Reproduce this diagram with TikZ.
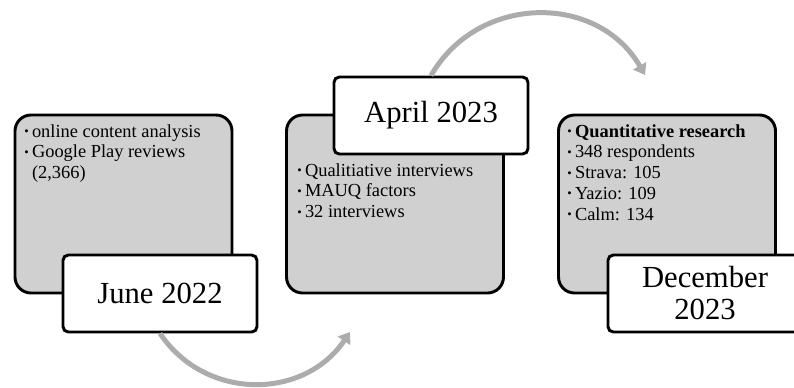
\documentclass[tikz,border=0pt]{standalone}
\usepackage{fontspec}
\setmainfont{Liberation Serif}
\usetikzlibrary{arrows.meta, positioning}
\definecolor{boxgray}{RGB}{208,208,208}
\definecolor{arrowgray}{RGB}{172,172,172}
\newcommand{\blt}{\raisebox{1.1pt}{\fontsize{9.5}{9.5}\selectfont\textbullet}}

\begin{document}
\begin{tikzpicture}[x=0.75pt,y=0.75pt]
\clip (0,0) rectangle (794,387);

\begin{scope}[every node/.style={draw=black, line width=2.2pt, fill=boxgray,
              rounded corners=12pt, minimum width=162.75pt, minimum height=133.5pt}]
  \node (g1) at (123.5,183) {};
  \node (g2) at (395,183) {};
  \node (g3) at (667,183) {};
\end{scope}

\begin{scope}[every node/.style={anchor=base west, inner sep=0pt,
              font=\fontsize{13.8}{15.6}\selectfont}]
  \node (l1) at (24,250) {\begin{tabular}[t]{@{}l@{\hspace{2.5pt}}l@{}}
      \blt & online content analysis\\
      \blt & Google Play reviews\\
           & (2,366)\end{tabular}};
  \node (l2) at (297,211) {\begin{tabular}[t]{@{}l@{\hspace{2.5pt}}l@{}}
      \blt & Qualitiative interviews\\
      \blt & MAUQ factors\\
      \blt & 32 interviews\end{tabular}};
  \node (l3) at (567,250) {\begin{tabular}[t]{@{}l@{\hspace{2.5pt}}l@{}}
      \blt & \textbf{Quantitative research}\\
      \blt & 348 respondents\\
      \blt & Strava: 105\\
      \blt & Yazio: 109\\
      \blt & Calm: 134\end{tabular}};
\end{scope}

\begin{scope}[every node/.style={draw=black, line width=2.2pt, fill=white,
              rounded corners=4pt, minimum width=145.5pt, minimum height=57.75pt,
              font=\fontsize{23}{24}\selectfont, align=center}]
  \node (june) at (160,93.5) {June 2022};
  \node (april) at (431,271.5) {April 2023};
  \node (dec) at (705,93.5) {December\\2023};
\end{scope}

\coordinate (tip1) at (350,55);
\coordinate (tip2) at (645,312);

\begin{scope}[>={Triangle[length=8pt,width=11pt]},
              every edge/.style={draw=arrowgray, line width=3.75pt}]
    \path [->] (june.south) edge[out=-56, in=-124, looseness=1.1] (tip1);
    \path [->] (april.north) edge[out=60, in=120, looseness=1.13] (tip2);
\end{scope}
\end{tikzpicture}
\end{document}
